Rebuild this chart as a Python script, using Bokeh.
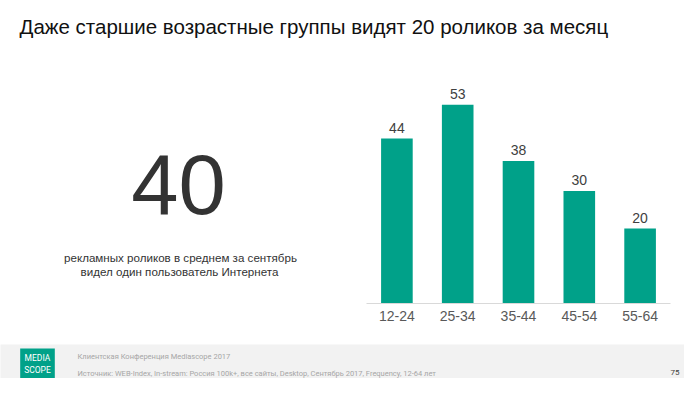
from bokeh.plotting import figure
from bokeh.models import ColumnDataSource, Label, LabelSet, Range1d, FactorRange
from bokeh.layouts import column, row
from bokeh.core.properties import value
from bokeh.embed import file_html
from bokeh.resources import INLINE

# ---- data ----
age_groups = ["12-24", "25-34", "35-44", "45-54", "55-64"]
views = [44, 53, 38, 30, 20]
headline_value = "40"
title_text = "Даже старшие возрастные группы видят 20 роликов за месяц"
sub_line1 = "рекламных роликов в среднем за сентябрь"
sub_line2 = "видел один пользователь Интернета"
footer_line1 = "Клиентская Конференция Mediascope 2017"
footer_line2 = "Источник: WEB-Index, In-stream: Россия 100k+, все сайты, Desktop, Сентябрь 2017, Frequency, 12-64 лет"
page_number = "75"

TEAL = "#00A189"
FONT = "Liberation Sans"


def blank(w, h, bg="white"):
    f = figure(width=w, height=h, x_range=Range1d(0, w), y_range=Range1d(0, h),
               output_backend="svg", toolbar_location=None, min_border=0,
               x_axis_location=None, y_axis_location=None,
               background_fill_color=bg, border_fill_color=bg)
    f.frame_align = False
    f.grid.grid_line_color = None
    f.outline_line_color = None
    return f


# ---- title ----
t = blank(684, 50)
t.add_layout(Label(x=19, y=24, text=title_text, text_font_size="20.5px", text_color="#111111",
                   text_font=FONT, text_baseline="middle"))

# ---- left text panel ----
lf = blank(366, 294)
lf.add_layout(Label(x=178, y=160, text=headline_value, text_font_size="85px", text_color="#333333",
                    text_font=FONT, text_align="center", text_baseline="middle"))
lf.add_layout(Label(x=180, y=87, text=sub_line1, text_font_size="11.6px", text_color="#333333",
                    text_font=FONT, text_align="center", text_baseline="middle"))
lf.add_layout(Label(x=179, y=73, text=sub_line2, text_font_size="11.6px", text_color="#333333",
                    text_font=FONT, text_align="center", text_baseline="middle"))

# ---- bar chart ----
src = ColumnDataSource(dict(x=age_groups, top=views, label=[str(v) for v in views]))
p = figure(width=318, height=294, x_range=FactorRange(*age_groups, range_padding=0),
           y_range=Range1d(0, 60), output_backend="svg", toolbar_location=None,
           y_axis_location=None,
           min_border_left=0, min_border_right=14, min_border_top=28, min_border_bottom=41)
p.frame_align = False
p.vbar(x="x", top="top", width=0.52, source=src, fill_color=TEAL, line_color=None)
p.add_layout(LabelSet(x="x", y="top", text="label", source=src, text_align="center",
                      text_baseline="alphabetic", y_offset=6, text_font_size="14px",
                      text_color="#404040", text_font=value(FONT)))
p.xgrid.grid_line_color = None
p.ygrid.grid_line_color = None
p.outline_line_color = None
p.xaxis.axis_line_color = "#d9d9d9"
p.xaxis.major_tick_line_color = None
p.xaxis.minor_tick_line_color = None
p.xaxis.major_tick_out = 0
p.xaxis.major_label_standoff = 7
p.xaxis.major_label_text_font_size = "14px"
p.xaxis.major_label_text_color = "#595959"
p.xaxis.major_label_text_font = FONT

# ---- footer ----
f = blank(684, 34, bg="#f2f2f2")
f.add_layout(Label(x=37, y=15, text="MEDIA\nSCOPE", text_align="center", text_baseline="middle",
                   text_font_size="8.5px", text_color="white", text_font="Roboto",
                   background_fill_color=TEAL, padding=4))
f.add_layout(Label(x=77, y=22, text=footer_line1, text_baseline="middle", text_font_size="7.5px",
                   text_color="#a6a6a6", text_font="Roboto"))
f.add_layout(Label(x=77, y=5, text=footer_line2, text_baseline="middle", text_font_size="7.5px",
                   text_color="#a6a6a6", text_font="Roboto"))
f.add_layout(Label(x=679, y=6, text=page_number, text_align="right", text_baseline="middle",
                   text_font_size="8px", text_color="#404040", text_font="Roboto"))

layout = column(t, row(lf, p, spacing=0), f, spacing=0)
open("out.html", "w").write(file_html(layout, INLINE))
